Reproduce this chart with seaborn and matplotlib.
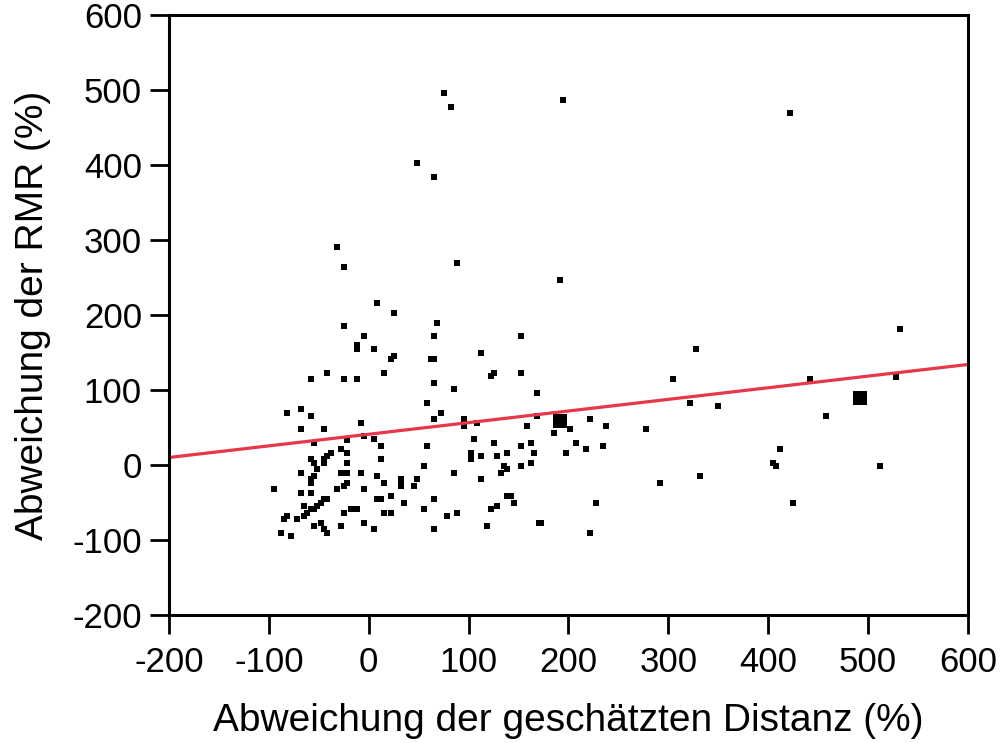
import pandas as pd
import seaborn as sns
import matplotlib.pyplot as plt

# Abweichung der geschätzten Distanz (%) / Abweichung der RMR (%)
x_dev = [-25, -12, -12, -42, -58, -25, -12, -82, -68, -58, -68, -45, -8, -55, -22,
         -28, -38, -22, -58, -55, -42, -45, -45, -22, -52, -68, -28, -22, -55, -58,
         -58, -22, -25, -32, -95, -68, -58, -42, -45, -48, -52, -65, -55, -58, -62,
         -65, -25, -18, -12, -82, -85, -72, -48, -55, -28, -45, -42, -88, -78,
         8, 25, 68, -5, 65, 152, 5, 25, 22, 62, 65, 112, 15, 125, 122, 152, 65, 85,
         168, 58, 72, 65, 95, 95, 108, 168, 158, -5, 5, 105, 125, 12, 58, 152, 162,
         102, 102, 102, 112, 128, 138, 165, 12, 55, 135, 138, 132, 152, 162, -8, 85,
         8, 32, 32, 32, 48, 45, 112, 15, -5, 22, 8, 12, 65, 35, 138, 142, 145, 128,
         122, 15, 22, 55, 88, 78, -5, 5, 65, 118, 170,
         192, 328, 305, 322, 350, 222, 238, 278, 185, 202, 208, 218, 235, 198, 332,
         292, 228, 172, 222,
         532, 442, 528, 458, 412, 405, 408, 512, 425,
         75, 82, 195, 48, 65, -32, -25, 88, 422]
y_dev = [185, 160, 155, 123, 115, 115, 115, 69, 75, 65, 48, 48, 56, 29, 33,
         21, 16, 16, 8, 3, 12, 8, 3, 3, -5, -11, -11, -11, -15, -19,
         -24, -24, -28, -32, -32, -37, -37, -45, -45, -51, -55, -55, -59, -59, -64,
         -68, -64, -59, -59, -68, -72, -72, -77, -81, -81, -85, -91, -91, -95,
         216, 203, 189, 172, 172, 172, 155, 145, 141, 141, 141, 149, 123, 123, 119, 123, 109, 101,
         96, 83, 69, 61, 61, 52, 56, 65, 52, 39, 35, 35, 29, 25, 25, 25, 29,
         16, 12, 8, 12, 12, 16, 16, 8, -1, -1, -5, -11, -1, 3, -11, -11,
         -15, -19, -24, -28, -19, -28, -19, -24, -32, -41, -45, -45, -45, -51, -41, -41, -51, -55,
         -59, -64, -64, -59, -64, -68, -77, -85, -85, -81, -77,
         247, 155, 115, 83, 79, 61, 52, 48, 43, 48, 29, 21, 25, 16, -15,
         -24, -51, -77, -91,
         181, 115, 117, 65, 21, 3, -1, -1, -51,
         496, 477, 487, 403, 384, 291, 264, 269, 469]

# Mittelwerte (große Quadrate)
mean_x = [192, 492]
mean_y = [59, 89]

# Regressionsgerade
fit_x = [-200, 600]
fit_y = [10, 134]

ticks = [-200, -100, 0, 100, 200, 300, 400, 500, 600]

df = pd.DataFrame({'x': x_dev, 'y': y_dev})
df_mean = pd.DataFrame({'x': mean_x, 'y': mean_y})
df_fit = pd.DataFrame({'x': fit_x, 'y': fit_y})

sns.set_style('ticks')
plt.rcParams['font.family'] = ['Liberation Sans', 'DejaVu Sans']
plt.rcParams['axes.unicode_minus'] = False
plt.rcParams['text.color'] = 'black'
plt.rcParams['axes.labelcolor'] = 'black'

fig = plt.figure(figsize=(10.02, 7.43), dpi=100)
ax = fig.add_axes([0.1687, 0.1723, 0.7973, 0.8075])

sns.lineplot(data=df_fit, x='x', y='y', color='#E8364A', linewidth=2.3, ax=ax)
sns.scatterplot(data=df, x='x', y='y', marker='s', s=25, color='black', linewidth=0, ax=ax)
sns.scatterplot(data=df_mean, x='x', y='y', marker='s', s=100, color='black', linewidth=0, ax=ax)

ax.set_xlim(-200, 600)
ax.set_ylim(-200, 600)
ax.set_xticks(ticks)
ax.set_yticks(ticks)
ax.tick_params(axis='both', direction='out', length=13.5, width=2, labelsize=25,
               color='black', labelcolor='black')
ax.tick_params(axis='x', pad=9)
ax.tick_params(axis='y', pad=6)
for s in ax.spines.values():
    s.set_linewidth(2.2)
    s.set_color('black')

ax.set_xlabel('Abweichung der geschätzten Distanz (%)', fontsize=28, labelpad=17)
ax.set_ylabel('Abweichung der RMR (%)', fontsize=28, labelpad=15)

plt.savefig('out.png', dpi=100)
